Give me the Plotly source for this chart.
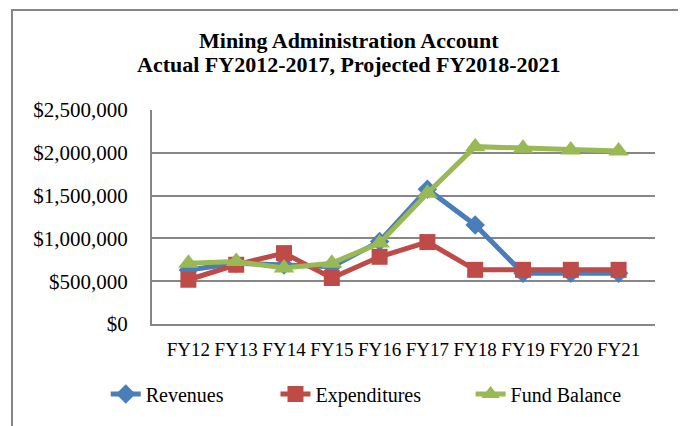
import plotly.graph_objects as go

categories = ["FY12", "FY13", "FY14", "FY15", "FY16", "FY17", "FY18", "FY19", "FY20", "FY21"]
revenues = [630000, 710000, 690000, 670000, 964000, 1575000, 1158000, 592000, 592000, 592000]
expenditures = [517000, 692000, 828000, 537000, 785000, 957000, 633000, 633000, 633000, 633000]
fund_balance = [711000, 730000, 653000, 711000, 945000, 1528000, 2072000, 2053000, 2033000, 2022000]

FONT = "Liberation Serif"

fig = go.Figure()
fig.add_trace(go.Scatter(x=categories, y=revenues, name="Revenues", mode="lines+markers",
                         line=dict(color="#4A7EBB", width=5), legend="legend",
                         marker=dict(symbol="diamond", size=15, color="#4A7EBB")))
fig.add_trace(go.Scatter(x=categories, y=expenditures, name="Expenditures", mode="lines+markers",
                         line=dict(color="#BE4B48", width=5), legend="legend2",
                         marker=dict(symbol="square", size=16, color="#BE4B48")))
fig.add_trace(go.Scatter(x=categories, y=fund_balance, name="Fund Balance", mode="lines+markers",
                         line=dict(color="#98B954", width=5), legend="legend3",
                         marker=dict(symbol="triangle-up", size=18, color="#98B954")))

legend_common = dict(orientation="h", xanchor="left", y=-0.327, yanchor="middle",
                     font=dict(family=FONT, size=20), bgcolor="rgba(0,0,0,0)")

fig.update_layout(
    width=678, height=418,
    margin=dict(l=144, r=31, t=102, b=102),
    paper_bgcolor="white", plot_bgcolor="white",
    font=dict(family=FONT, size=20, color="black"),
    showlegend=True,
    legend=dict(x=-0.092, **legend_common),
    legend2=dict(x=0.2455, **legend_common),
    legend3=dict(x=0.6334, **legend_common),
    xaxis=dict(showgrid=False, showline=True, linecolor="#868686", linewidth=2,
               ticks="", ticklabelstandoff=7, tickfont=dict(family=FONT, size=19)),
    yaxis=dict(range=[0, 2500000], dtick=500000, tickformat="$,.0f",
               showgrid=True, gridcolor="#868686", gridwidth=1.5,
               showline=True, linecolor="#868686", linewidth=2,
               zeroline=False, ticks="", ticklabelstandoff=18,
               tickfont=dict(family=FONT, size=21)),
    annotations=[
        dict(text="<b>Mining Administration Account</b>", xref="paper", yref="paper",
             x=0.392, y=1.325, xanchor="center", yanchor="middle", showarrow=False,
             font=dict(family=FONT, size=22, color="black")),
        dict(text="<b>Actual FY2012-2017, Projected FY2018-2021</b>", xref="paper", yref="paper",
             x=0.392, y=1.212, xanchor="center", yanchor="middle", showarrow=False,
             font=dict(family=FONT, size=22, color="black")),
    ],
    shapes=[dict(type="rect", xref="paper", yref="paper",
                 x0=-0.2783, x1=1.0537, y0=-0.6, y1=1.467,
                 line=dict(color="#868686", width=2), fillcolor="rgba(0,0,0,0)")],
)

fig.write_html("out.html")
